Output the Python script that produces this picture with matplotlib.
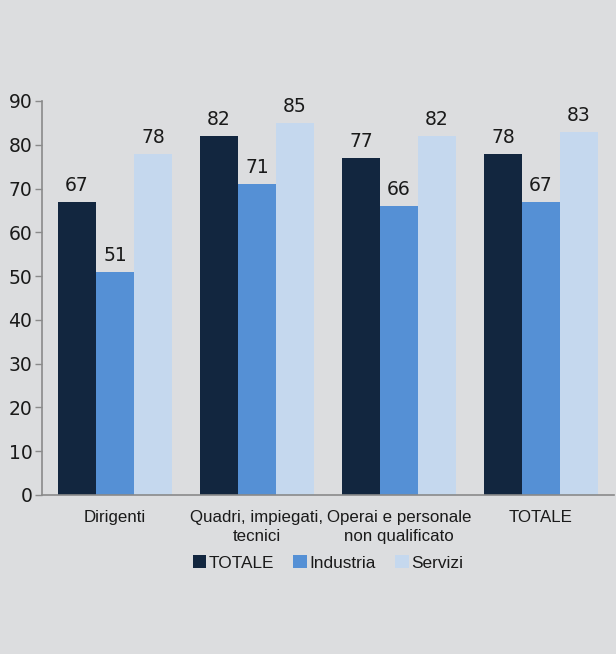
import matplotlib
matplotlib.use("Agg")
import matplotlib.pyplot as plt
import numpy as np

categories = ["Dirigenti", "Quadri, impiegati,\ntecnici", "Operai e personale\nnon qualificato", "TOTALE"]
series_names = ["TOTALE", "Industria", "Servizi"]
totale = [67, 82, 77, 78]
industria = [51, 71, 66, 67]
servizi = [78, 85, 82, 83]
y_ticks = [0, 10, 20, 30, 40, 50, 60, 70, 80, 90]

colors = ["#12263f", "#5590d5", "#c5d8ee"]
bg = "#dcdddf"
axis_grey = "#8a8a8a"
text_col = "#1a1a1a"

plt.rcParams["font.family"] = ["Liberation Sans", "DejaVu Sans"]

fig = plt.figure(figsize=(6.16, 6.54), dpi=100, facecolor=bg)
ax = fig.add_axes([42 / 616, 1 - 495 / 654, 572 / 616, 394 / 654])
ax.set_facecolor(bg)

x = np.arange(len(categories))
width = 38 / 142
values = [totale, industria, servizi]
for i, (name, vals, c) in enumerate(zip(series_names, values, colors)):
    pos = x + (i - 1) * width
    bars = ax.bar(pos, vals, width=width, color=c, label=name, linewidth=0)
    for b, v in zip(bars, vals):
        ax.annotate(f"{v}", (b.get_x() + b.get_width() / 2, v),
                    xytext=(0, 5), textcoords="offset points",
                    ha="center", va="bottom", fontsize=13.5,
                    family="DejaVu Sans", color=text_col)

ax.set_xlim(-73 / 142, 3 + 73 / 142)
ax.set_ylim(0, 90)
ax.set_yticks(y_ticks)
ax.set_yticklabels([str(t) for t in y_ticks], fontsize=13.5, family="DejaVu Sans", color=text_col)
ax.set_xticks(x)
ax.set_xticklabels(categories, fontsize=12.2, color=text_col, linespacing=1.35)
ax.tick_params(axis="x", length=0, pad=11)
ax.tick_params(axis="y", length=5, width=1, color=axis_grey, pad=2)

for s in ["top", "right"]:
    ax.spines[s].set_visible(False)
for s in ["left", "bottom"]:
    ax.spines[s].set_color(axis_grey)
    ax.spines[s].set_linewidth(1.2)

leg = ax.legend(loc="center", bbox_to_anchor=(0.5, (495 - 563) / 394), ncol=3, frameon=False,
                fontsize=12.4, handlelength=0.8, handleheight=0.8, handletextpad=0.15,
                columnspacing=1.1)
for t in leg.get_texts():
    t.set_color(text_col)

fig.savefig("out.png", dpi=100, facecolor=bg)
